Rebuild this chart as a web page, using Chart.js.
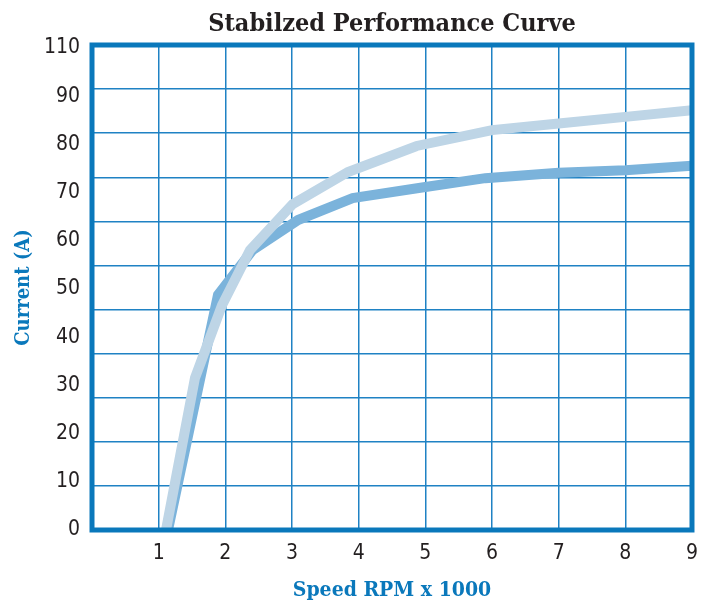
<!DOCTYPE html>
<html>
<head>
<meta charset="utf-8">
<title>Stabilzed Performance Curve</title>
<script src="https://cdn.jsdelivr.net/npm/chart.js@4.4.1/dist/chart.umd.min.js"></script>
<style>
  html, body { margin: 0; padding: 0; background: #fff; }
  #wrap { width: 709px; height: 602px; }
</style>
</head>
<body>
<div id="wrap"><canvas id="grafico" width="709" height="602"></canvas></div>
<script>
// valores (x em RPM x 1000, corrente em A)
const speedLight = [1.11, 1.545, 1.95, 2.37, 3.01, 3.84, 4.87, 6.0, 7.0, 8.0, 9.0];
const currentLight = [0, 34.5, 51.0, 63.5, 73.9, 81.2, 87.1, 90.7, 92.2, 93.7, 95.2];

const speedDark = [1.14, 1.89, 2.41, 3.09, 3.91, 5.0, 5.9, 7.0, 8.0, 9.0];
const currentDark = [0, 53.3, 63.5, 70.3, 75.3, 77.8, 79.8, 81.0, 81.6, 82.6];

const xTickLabels = ["", "1", "2", "3", "4", "5", "6", "7", "8", "9"];
const yTickLabels = ["0", "10", "20", "30", "40", "50", "60", "70", "80", "90", "110"];

document.addEventListener("DOMContentLoaded", () => {
  const azul = "#0a78bb";
  const grade = "#1f82c4";
  const fonteNum = "'DejaVu Sans Condensed', 'DejaVu Sans', sans-serif";
  const fonteSlab = "'DejaVu Serif Condensed', 'DejaVu Serif', serif";

  const pontos = (xs, ys) => xs.map((x, i) => ({ x: x, y: ys[i] }));

  // moldura grossa em volta da área do gráfico
  const moldura = {
    id: "moldura",
    afterDatasetsDraw(chart) {
      const a = chart.chartArea;
      const ctx = chart.ctx;
      ctx.save();
      ctx.strokeStyle = azul;
      ctx.lineWidth = 5;
      ctx.strokeRect(a.left, a.top, a.right - a.left, a.bottom - a.top);
      ctx.restore();
    }
  };

  new Chart(document.getElementById("grafico").getContext("2d"), {
    type: "line",
    data: {
      datasets: [
        {
          label: "Light",
          data: pontos(speedLight, currentLight),
          borderColor: "#bed5e6",
          borderWidth: 10,
          pointRadius: 0,
          tension: 0,
          fill: false,
          borderJoinStyle: "miter",
          xAxisID: "x",
          yAxisID: "y"
        },
        {
          label: "Dark",
          data: pontos(speedDark, currentDark),
          borderColor: "#7bb3db",
          borderWidth: 10,
          pointRadius: 0,
          tension: 0,
          fill: false,
          borderJoinStyle: "miter",
          xAxisID: "x",
          yAxisID: "y"
        }
      ]
    },
    options: {
      responsive: false,
      animation: false,
      devicePixelRatio: 1,
      layout: { padding: { left: 0, right: 17, top: 0, bottom: 0 } },
      plugins: {
        legend: { display: false },
        tooltip: { enabled: false },
        title: {
          display: true,
          fullSize: false,
          text: "Stabilzed Performance Curve",
          color: "#231f20",
          font: { family: fonteSlab, size: 25, weight: "bold", lineHeight: 1.2 },
          padding: { top: 9, bottom: 6 }
        }
      },
      scales: {
        x: {
          type: "linear",
          min: 0,
          max: 9,
          ticks: {
            stepSize: 1,
            color: "#231f20",
            font: { family: fonteNum, size: 21 },
            padding: 11,
            callback: v => xTickLabels[v]
          },
          grid: { color: grade, lineWidth: 1.5, drawTicks: false },
          border: { display: false },
          title: {
            display: true,
            text: "Speed RPM x 1000",
            color: azul,
            font: { family: fonteSlab, size: 21, weight: "bold", lineHeight: 1.2 },
            padding: { top: 0, bottom: -1 }
          },
          afterFit: s => { s.height = 72; }
        },
        y: {
          type: "linear",
          position: "left",
          min: 0,
          max: 110,
          ticks: { stepSize: 10, display: false },
          grid: { color: grade, lineWidth: 1.5, drawTicks: false },
          border: { display: false },
          afterFit: s => { s.width = 0; }
        },
        yLabels: {
          type: "linear",
          position: "left",
          min: 0,
          max: 10.06,
          ticks: {
            color: "#231f20",
            font: { family: fonteNum, size: 21 },
            padding: 12,
            callback: v => yTickLabels[v]
          },
          afterBuildTicks: s => { s.ticks = yTickLabels.map((t, i) => ({ value: i })); },
          grid: { display: false, drawTicks: false },
          border: { display: false },
          title: {
            display: true,
            text: "Current (A)",
            color: azul,
            font: { family: fonteSlab, size: 20, weight: "bold", lineHeight: 1.2 },
            padding: { top: 12, bottom: 0 }
          },
          afterFit: s => { s.width = 92; }
        }
      }
    },
    plugins: [moldura]
  });
});
</script>
</body>
</html>
